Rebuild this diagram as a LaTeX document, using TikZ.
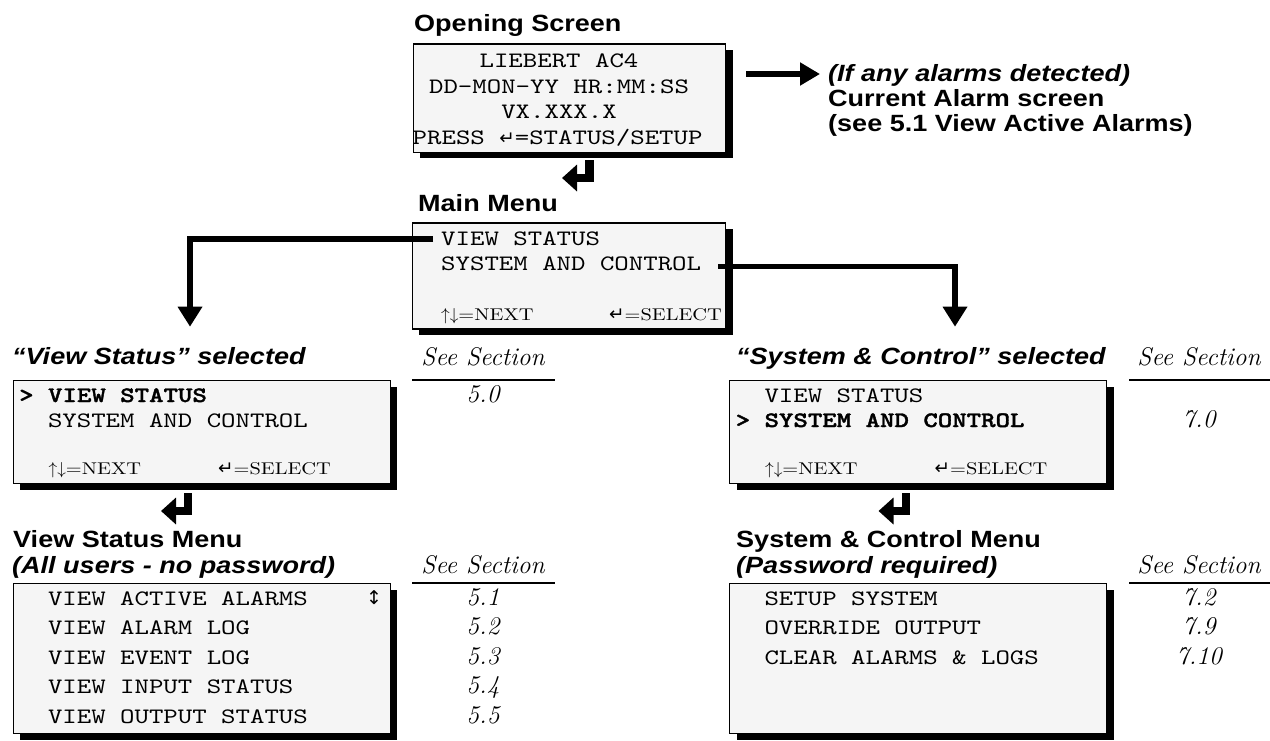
\documentclass[tikz,border=0pt]{standalone}
\usepackage{fontspec}
\usetikzlibrary{arrows.meta,shadows}
\newfontfamily\hdfont{Liberation Sans}[FakeStretch=1.15]
\newfontfamily\lcdfont{lmmono10-regular.otf}[FakeStretch=1.25,BoldFont=lmmonolt10-bold.otf,BoldFeatures={FakeBold=1.6}]
\newfontfamily\symfont{DejaVu Sans}
\newfontfamily\keyfont{lmroman10-regular.otf}[FakeStretch=1.2]
\definecolor{lcdbg}{HTML}{F5F5F5}
\newcommand\hdsz{\fontsize{23.5}{26}\selectfont}
\newcommand\lcdsz{\fontsize{22}{26}\selectfont}
\newcommand\retsym{{\symfont\fontsize{18.5}{18}\selectfont ↵}}
\begin{document}
\begin{tikzpicture}[x=1pt,y=-1pt,
  lcd/.style={draw=black,line width=1.2pt,fill=lcdbg,inner sep=0,anchor=north west,
     drop shadow={shadow xshift=7pt,shadow yshift=-6pt,fill=black,opacity=1}},
  hd/.style={font=\hdfont\bfseries\hdsz,inner sep=0,anchor=base west},
  hdi/.style={font=\hdfont\bfseries\itshape\hdsz,inner sep=0,anchor=base west},
  lcdt/.style={font=\lcdfont\lcdsz,inner sep=0,anchor=base west},
  lcdc/.style={font=\lcdfont\lcdsz,inner sep=0,anchor=base},
  lcdb/.style={font=\lcdfont\bfseries\lcdsz,inner sep=0,anchor=base west},
  key/.style={font=\keyfont\fontsize{17}{17}\selectfont,inner sep=0,anchor=base west},
  sec/.style={font=\itshape\fontsize{25.5}{26}\selectfont,inner sep=0,anchor=base},
  secrule/.style={line width=1.2pt},
  conn/.style={line width=5.3pt,-{Triangle[length=20pt,width=23.5pt]}},
  ret/.style={line width=8.5pt,-{Triangle[length=15pt,width=26pt]}},
]
\useasboundingbox (0,0) rectangle (1270,740);

% boxes
\node[lcd,minimum width=312.3pt,minimum height=108.4pt] (os) at (412.7,43.3) {};
\node[lcd,minimum width=313.3pt,minimum height=106pt] (mm) at (411.7,222.3) {};
\node[lcd,minimum width=377pt,minimum height=103pt] (vss) at (12.5,380) {};
\node[lcd,minimum width=377pt,minimum height=103pt] (scs) at (729,380) {};
\node[lcd,minimum width=377pt,minimum height=150pt] (vsm) at (12.5,583) {};
\node[lcd,minimum width=377pt,minimum height=150pt] (scm) at (729,583) {};

% titles
\node[hd] (tOS) at (414,31) {Opening Screen};
\node[hd] (tMM) at (418,211) {Main Menu};
\node[hdi] (tVSS) at (12,364) {“View Status” selected};
\node[hdi] (tSCS) at (736,364) {“System \& Control” selected};
\node[hd] (tVSM) at (13,547) {View Status Menu};
\node[hdi] (tVSM2) at (12,573) {(All users - no password)};
\node[hd] (tSCM) at (736,547) {System \& Control Menu};
\node[hdi] (tSCM2) at (736,573) {(Password required)};
\node[hdi] (al1) at (828,81) {(If any alarms detected)};
\node[hd] (al2) at (828,106) {Current Alarm screen};
\node[hd] (al3) at (828,131) {(see 5.1 View Active Alarms)};

% opening screen text
\node[lcdc] (os1) at (559,67) {LIEBERT AC4};
\node[lcdc] (os2) at (559,93) {DD-MON-YY HR:MM:SS};
\node[lcdc] (os3) at (559,118.5) {VX.XXX.X};
\node[lcdt] (os4) at (412.5,144) {PRESS \retsym=STATUS/SETUP};

% main menu text
\node[lcdt] (mm1) at (441,245) {VIEW STATUS};
\node[lcdt] (mm2) at (441,270) {SYSTEM AND CONTROL};
\node[key] (mm3) at (441,320.7) {$\uparrow\downarrow$=NEXT};
\node[key] (mm4) at (609,320.7) {\retsym=SELECT};

% view status selected
\node[lcdb] (vs1) at (19,402) {> VIEW STATUS};
\node[lcdt] (vs2) at (47.8,427) {SYSTEM AND CONTROL};
\node[key] (vs3) at (48.5,474) {$\uparrow\downarrow$=NEXT};
\node[key] (vs4) at (218,474) {\retsym=SELECT};

% system & control selected
\node[lcdt] (sc1) at (764.3,402) {VIEW STATUS};
\node[lcdb] (sc2) at (735.5,427) {> SYSTEM AND CONTROL};
\node[key] (sc3) at (765,474) {$\uparrow\downarrow$=NEXT};
\node[key] (sc4) at (934.5,474) {\retsym=SELECT};

% view status menu
\node[lcdt] (v1) at (47.8,605) {VIEW ACTIVE ALARMS};
\node[lcdt] (v2) at (47.8,634.5) {VIEW ALARM LOG};
\node[lcdt] (v3) at (47.8,664) {VIEW EVENT LOG};
\node[lcdt] (v4) at (47.8,693.5) {VIEW INPUT STATUS};
\node[lcdt] (v5) at (47.8,723) {VIEW OUTPUT STATUS};
\node[font=\symfont\fontsize{19}{19}\selectfont,inner sep=0] (updn) at (374,598) {↕};

% system & control menu
\node[lcdt] (s1) at (764.3,605) {SETUP SYSTEM};
\node[lcdt] (s2) at (764.3,634.5) {OVERRIDE OUTPUT};
\node[lcdt] (s3) at (764.3,664) {CLEAR ALARMS \& LOGS};

% see section columns
\node[sec] (ss1) at (483,365) {See Section};
\draw[secrule] (412,380) -- (555,380);
\node[sec] (n50) at (483,402) {5.0};
\node[sec] (ss2) at (1199,365) {See Section};
\draw[secrule] (1129,380) -- (1270,380);
\node[sec] (n70) at (1199,427) {7.0};
\node[sec] (ss3) at (483,573) {See Section};
\draw[secrule] (412,583) -- (555,583);
\node[sec] (n51) at (483,605) {5.1};
\node[sec] (n52) at (483,634.5) {5.2};
\node[sec] (n53) at (483,664) {5.3};
\node[sec] (n54) at (483,693.5) {5.4};
\node[sec] (n55) at (483,723) {5.5};
\node[sec] (ss4) at (1199,573) {See Section};
\draw[secrule] (1129,583) -- (1270,583);
\node[sec] (n72) at (1199,605) {7.2};
\node[sec] (n79) at (1199,634.5) {7.9};
\node[sec] (n710) at (1199,664) {7.10};

% connectors
\coordinate (mmL) at (433,239);
\coordinate (vsIn) at (190,326.7);
\draw[conn] (mmL) -| (vsIn);
\coordinate (mmR) at (718,266.5);
\coordinate (scIn) at (955,326.7);
\draw[conn] (mmR) -| (scIn);
\coordinate (osR) at (746,74);
\draw[line width=5.5pt,-{Triangle[length=20pt,width=22pt]},shorten >=8pt] (osR) -- (osR -| al1.west);

% return (enter) arrows
\coordinate (r1a) at (589.6,160);
\coordinate (r1b) at (562,178);
\draw[ret] (r1a) |- (r1b);
\coordinate (r2a) at (188,493);
\coordinate (r2b) at (161,511);
\draw[ret] (r2a) |- (r2b);
\coordinate (r3a) at (906,493);
\coordinate (r3b) at (878.5,511);
\draw[ret] (r3a) |- (r3b);
\end{tikzpicture}
\end{document}
